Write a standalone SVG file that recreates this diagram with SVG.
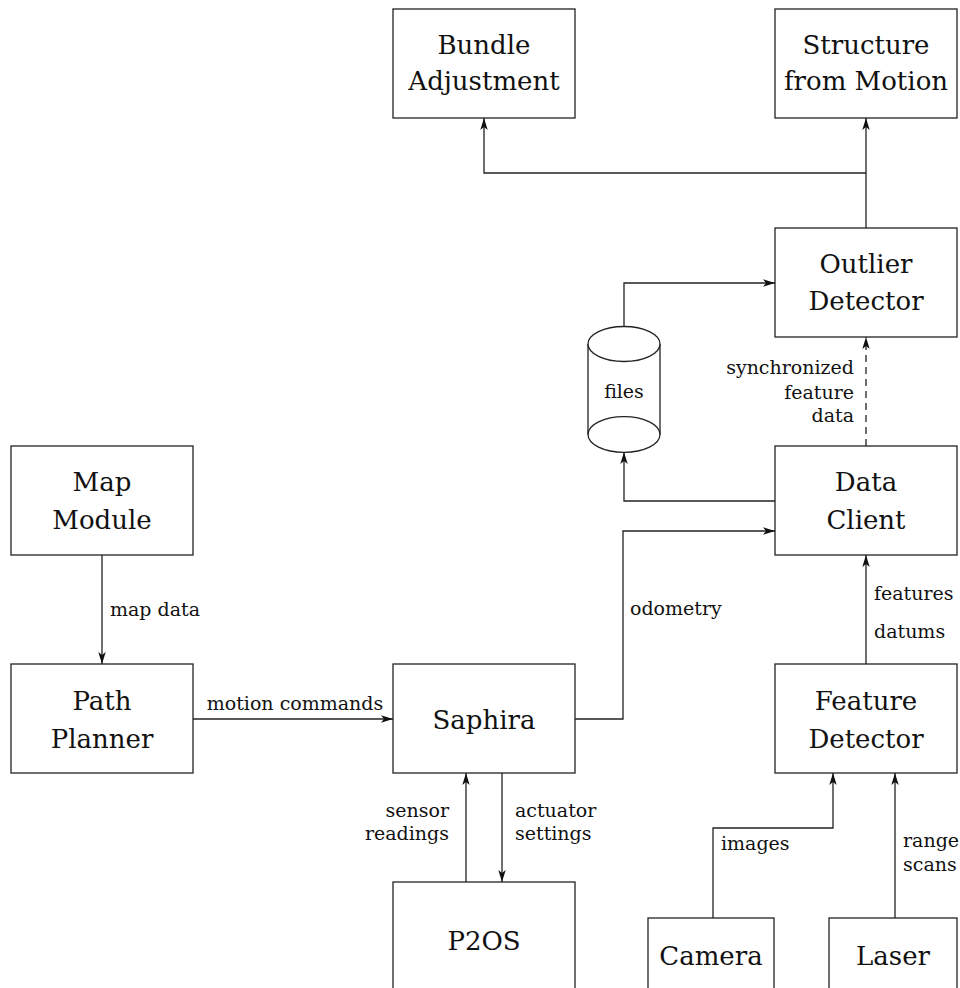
<svg xmlns="http://www.w3.org/2000/svg" width="960" height="988" viewBox="0 0 960 988">
<style>
.box{fill:#fff;stroke:#222;stroke-width:1.3}
.nl{font-family:'DejaVu Serif','Liberation Serif',serif;font-size:26px;fill:#111;text-anchor:middle}
.el{font-family:'DejaVu Serif','Liberation Serif',serif;font-size:19px;fill:#111}
.c{fill:none;stroke:#222;stroke-width:1.3}
.d{stroke-dasharray:7,5}
</style>
<defs>
<marker id="ah" markerWidth="13" markerHeight="9" refX="12" refY="4.5" orient="auto" markerUnits="userSpaceOnUse">
<path d="M0,0.8 L12,4.5 L0,8.2 L3,4.5 z" fill="#111"/>
</marker>
</defs>
<rect width="960" height="988" fill="#fff"/>

<g id="connectors">
<path class="c" d="M866,228 V118" marker-end="url(#ah)"/>
<path class="c" d="M866,173 H484 V118" marker-end="url(#ah)"/>
<path class="c" d="M624,327 V283 H775" marker-end="url(#ah)"/>
<path class="c" d="M775,501 H624 V452" marker-end="url(#ah)"/>
<path class="c d" d="M866,446 V337" marker-end="url(#ah)"/>
<path class="c" d="M575,719 H623 V531 H775" marker-end="url(#ah)"/>
<path class="c" d="M866,664 V555" marker-end="url(#ah)"/>
<path class="c" d="M102,555 V664" marker-end="url(#ah)"/>
<path class="c" d="M193,719 H393" marker-end="url(#ah)"/>
<path class="c" d="M466,882 V773" marker-end="url(#ah)"/>
<path class="c" d="M502,773 V882" marker-end="url(#ah)"/>
<path class="c" d="M713,918 V828 H833 V773" marker-end="url(#ah)"/>
<path class="c" d="M895,918 V773" marker-end="url(#ah)"/>
<text class="el" x="854" y="374" text-anchor="end">synchronized</text>
<text class="el" x="854" y="399" text-anchor="end">feature</text>
<text class="el" x="854" y="422" text-anchor="end">data</text>
<text class="el" x="630" y="615">odometry</text>
<text class="el" x="874" y="600">features</text>
<text class="el" x="874" y="638">datums</text>
<text class="el" x="110" y="616">map data</text>
<text class="el" x="295" y="710" text-anchor="middle">motion commands</text>
<text class="el" x="449" y="817" text-anchor="end">sensor</text>
<text class="el" x="449" y="840" text-anchor="end">readings</text>
<text class="el" x="515" y="817">actuator</text>
<text class="el" x="515" y="840">settings</text>
<text class="el" x="721" y="850">images</text>
<text class="el" x="903" y="847">range</text>
<text class="el" x="903" y="871">scans</text>
</g>

<g id="bundle"><rect class="box" x="393" y="9" width="182" height="109"/><text class="nl" x="484" y="54">Bundle</text><text class="nl" x="484" y="90">Adjustment</text></g>
<g id="sfm"><rect class="box" x="775" y="9" width="182" height="109"/><text class="nl" x="866" y="54">Structure</text><text class="nl" x="866" y="90">from Motion</text></g>
<g id="outlier"><rect class="box" x="775" y="228" width="182" height="109"/><text class="nl" x="866" y="273">Outlier</text><text class="nl" x="866" y="310">Detector</text></g>
<g id="files">
<path class="box" d="M588,344 V434.5 A36,17.8 0 0 0 660,434.5 V344"/>
<ellipse class="box" cx="624" cy="344" rx="36" ry="17.5"/>
<path class="c" d="M588,434.5 A36,17.8 0 0 1 660,434.5"/>
<text class="el" x="624" y="398" text-anchor="middle">files</text>
</g>
<g id="dataclient"><rect class="box" x="775" y="446" width="182" height="109"/><text class="nl" x="866" y="491">Data</text><text class="nl" x="866" y="529">Client</text></g>
<g id="map"><rect class="box" x="11" y="446" width="182" height="109"/><text class="nl" x="102" y="491">Map</text><text class="nl" x="102" y="529">Module</text></g>
<g id="path"><rect class="box" x="11" y="664" width="182" height="109"/><text class="nl" x="102" y="710">Path</text><text class="nl" x="102" y="748">Planner</text></g>
<g id="saphira"><rect class="box" x="393" y="664" width="182" height="109"/><text class="nl" x="484" y="729">Saphira</text></g>
<g id="featuredet"><rect class="box" x="775" y="664" width="182" height="109"/><text class="nl" x="866" y="710">Feature</text><text class="nl" x="866" y="748">Detector</text></g>
<g id="p2os"><rect class="box" x="393" y="882" width="182" height="120"/><text class="nl" x="484" y="950">P2OS</text></g>
<g id="camera"><rect class="box" x="648" y="918" width="126" height="90"/><text class="nl" x="711" y="965">Camera</text></g>
<g id="laser"><rect class="box" x="829" y="918" width="128" height="90"/><text class="nl" x="893" y="965">Laser</text></g>
</svg>
